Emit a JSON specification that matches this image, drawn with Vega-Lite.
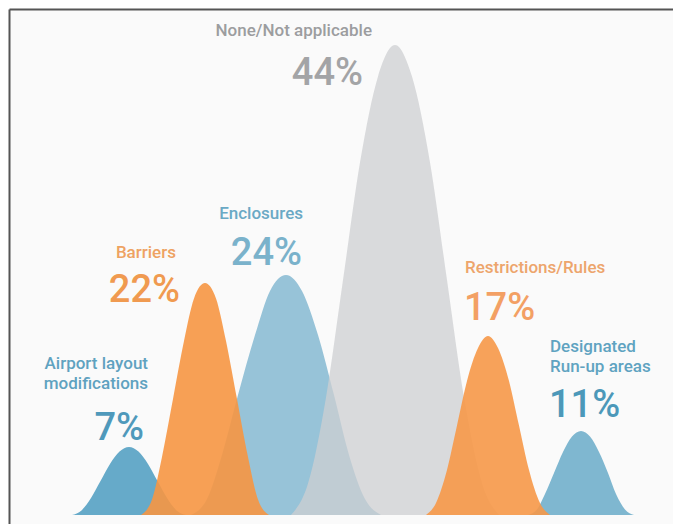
{
  "$schema": "https://vega.github.io/schema/vega-lite/v6.json",
  "width": 664,
  "height": 515,
  "autosize": {"type": "none"},
  "padding": {"left": 9, "top": 9, "right": 0, "bottom": 0},
  "background": "#ffffff",
  "config": {
    "view": {"fill": "#fafafa", "stroke": null},
    "axis": {"domain": true, "domainColor": "#555555", "domainWidth": 2, "ticks": false, "labels": false, "grid": false, "title": null}
  },
  "datasets": {
    "curves": [
      {"series": "Airport layout modifications", "x": 72, "y": 0},
      {"series": "Airport layout modifications", "x": 81.5, "y": 4.6},
      {"series": "Airport layout modifications", "x": 91, "y": 17},
      {"series": "Airport layout modifications", "x": 100.5, "y": 34},
      {"series": "Airport layout modifications", "x": 110, "y": 51},
      {"series": "Airport layout modifications", "x": 119.5, "y": 63.4},
      {"series": "Airport layout modifications", "x": 129, "y": 68},
      {"series": "Airport layout modifications", "x": 138.5, "y": 63.4},
      {"series": "Airport layout modifications", "x": 148, "y": 51},
      {"series": "Airport layout modifications", "x": 157.5, "y": 34},
      {"series": "Airport layout modifications", "x": 167, "y": 17},
      {"series": "Airport layout modifications", "x": 176.5, "y": 4.6},
      {"series": "Airport layout modifications", "x": 186, "y": 0},
      {"series": "Barriers", "x": 141, "y": 0},
      {"series": "Barriers", "x": 152, "y": 15.5},
      {"series": "Barriers", "x": 162, "y": 58},
      {"series": "Barriers", "x": 173, "y": 116},
      {"series": "Barriers", "x": 184, "y": 174},
      {"series": "Barriers", "x": 194, "y": 216.5},
      {"series": "Barriers", "x": 205, "y": 232},
      {"series": "Barriers", "x": 216, "y": 216.5},
      {"series": "Barriers", "x": 226, "y": 174},
      {"series": "Barriers", "x": 237, "y": 116},
      {"series": "Barriers", "x": 248, "y": 58},
      {"series": "Barriers", "x": 258, "y": 15.5},
      {"series": "Barriers", "x": 269, "y": 0},
      {"series": "Enclosures", "x": 191, "y": 0},
      {"series": "Enclosures", "x": 207, "y": 16},
      {"series": "Enclosures", "x": 222, "y": 60},
      {"series": "Enclosures", "x": 238, "y": 120},
      {"series": "Enclosures", "x": 255, "y": 180},
      {"series": "Enclosures", "x": 270, "y": 224},
      {"series": "Enclosures", "x": 286, "y": 240},
      {"series": "Enclosures", "x": 302, "y": 224},
      {"series": "Enclosures", "x": 318, "y": 180},
      {"series": "Enclosures", "x": 334, "y": 120},
      {"series": "Enclosures", "x": 349, "y": 60},
      {"series": "Enclosures", "x": 365, "y": 16},
      {"series": "Enclosures", "x": 381, "y": 0},
      {"series": "None/Not applicable", "x": 291, "y": 0},
      {"series": "None/Not applicable", "x": 308, "y": 31.5},
      {"series": "None/Not applicable", "x": 326, "y": 117.5},
      {"series": "None/Not applicable", "x": 343, "y": 235},
      {"series": "None/Not applicable", "x": 360, "y": 352.5},
      {"series": "None/Not applicable", "x": 378, "y": 438.5},
      {"series": "None/Not applicable", "x": 395, "y": 470},
      {"series": "None/Not applicable", "x": 412, "y": 438.5},
      {"series": "None/Not applicable", "x": 430, "y": 352.5},
      {"series": "None/Not applicable", "x": 447, "y": 235},
      {"series": "None/Not applicable", "x": 464, "y": 117.5},
      {"series": "None/Not applicable", "x": 482, "y": 31.5},
      {"series": "None/Not applicable", "x": 499, "y": 0},
      {"series": "Restrictions/Rules", "x": 426, "y": 0},
      {"series": "Restrictions/Rules", "x": 436, "y": 12},
      {"series": "Restrictions/Rules", "x": 447, "y": 45},
      {"series": "Restrictions/Rules", "x": 457, "y": 89.5},
      {"series": "Restrictions/Rules", "x": 467, "y": 134},
      {"series": "Restrictions/Rules", "x": 478, "y": 167},
      {"series": "Restrictions/Rules", "x": 488, "y": 179},
      {"series": "Restrictions/Rules", "x": 498, "y": 167},
      {"series": "Restrictions/Rules", "x": 509, "y": 134},
      {"series": "Restrictions/Rules", "x": 519, "y": 89.5},
      {"series": "Restrictions/Rules", "x": 529, "y": 45},
      {"series": "Restrictions/Rules", "x": 540, "y": 12},
      {"series": "Restrictions/Rules", "x": 550, "y": 0},
      {"series": "Designated Run-up areas", "x": 528, "y": 0},
      {"series": "Designated Run-up areas", "x": 537, "y": 5.6},
      {"series": "Designated Run-up areas", "x": 545, "y": 21},
      {"series": "Designated Run-up areas", "x": 554, "y": 42},
      {"series": "Designated Run-up areas", "x": 563, "y": 63},
      {"series": "Designated Run-up areas", "x": 572, "y": 78.4},
      {"series": "Designated Run-up areas", "x": 581, "y": 84},
      {"series": "Designated Run-up areas", "x": 590, "y": 78.4},
      {"series": "Designated Run-up areas", "x": 599, "y": 63},
      {"series": "Designated Run-up areas", "x": 608, "y": 42},
      {"series": "Designated Run-up areas", "x": 616, "y": 21},
      {"series": "Designated Run-up areas", "x": 625, "y": 5.6},
      {"series": "Designated Run-up areas", "x": 634, "y": 0}
    ],
    "labels": [
      {"series": "None/Not applicable", "kind": "name", "text": "None/Not applicable", "x": 372, "y": 479},
      {"series": "Enclosures", "kind": "name", "text": "Enclosures", "x": 303, "y": 296},
      {"series": "Barriers", "kind": "name", "text": "Barriers", "x": 176, "y": 257},
      {"series": "Airport layout modifications", "kind": "name", "text": "Airport layout\nmodifications", "x": 148, "y": 146},
      {"series": "Restrictions/Rules", "kind": "name", "text": "Restrictions/Rules", "x": 465, "y": 242},
      {"series": "Designated Run-up areas", "kind": "name", "text": "Designated\nRun-up areas", "x": 550, "y": 163},
      {"series": "None/Not applicable", "kind": "pct", "text": "44%", "x": 363, "y": 430},
      {"series": "Enclosures", "kind": "pct", "text": "24%", "x": 302, "y": 250},
      {"series": "Barriers", "kind": "pct", "text": "22%", "x": 180, "y": 213},
      {"series": "Airport layout modifications", "kind": "pct", "text": "7%", "x": 144, "y": 75},
      {"series": "Restrictions/Rules", "kind": "pct", "text": "17%", "x": 464, "y": 195},
      {"series": "Designated Run-up areas", "kind": "pct", "text": "11%", "x": 549, "y": 98}
    ]
  },
  "layer": [
    {
      "data": {"name": "curves"},
      "transform": [{"filter": {"field": "series", "oneOf": ["Airport layout modifications", "Enclosures", "Designated Run-up areas"]}}],
      "mark": {"type": "area", "interpolate": "monotone"},
      "encoding": {
        "x": {"field": "x", "type": "quantitative", "scale": {"domain": [9, 673], "nice": false, "zero": false}, "axis": {"orient": "top"}},
        "y": {"field": "y", "type": "quantitative", "stack": null, "scale": {"domain": [-9, 506], "nice": false, "zero": false}, "axis": {"orient": "left"}},
        "color": {"field": "series", "type": "nominal", "legend": null, "scale": {"domain": ["Airport layout modifications", "Enclosures", "Designated Run-up areas"], "range": ["#66aac9", "#97c3d8", "#7fb7d0"]}}
      }
    },
    {
      "data": {"name": "curves"},
      "transform": [{"filter": {"field": "series", "equal": "None/Not applicable"}}],
      "mark": {"type": "area", "interpolate": "monotone", "opacity": 0.75},
      "encoding": {
        "x": {"field": "x", "type": "quantitative", "scale": {"domain": [9, 673], "nice": false, "zero": false}},
        "y": {"field": "y", "type": "quantitative", "stack": null, "scale": {"domain": [-9, 506], "nice": false, "zero": false}},
        "color": {"field": "series", "type": "nominal", "legend": null, "scale": {"domain": ["None/Not applicable"], "range": ["#cecfd2"]}}
      }
    },
    {
      "data": {"name": "curves"},
      "transform": [{"filter": {"field": "series", "oneOf": ["Barriers", "Restrictions/Rules"]}}],
      "mark": {"type": "area", "interpolate": "monotone", "opacity": 0.9},
      "encoding": {
        "x": {"field": "x", "type": "quantitative", "scale": {"domain": [9, 673], "nice": false, "zero": false}},
        "y": {"field": "y", "type": "quantitative", "stack": null, "scale": {"domain": [-9, 506], "nice": false, "zero": false}},
        "color": {"field": "series", "type": "nominal", "legend": null, "scale": {"domain": ["Barriers", "Restrictions/Rules"], "range": ["#f69643", "#f69848"]}}
      }
    },
    {
      "data": {"name": "labels"},
      "transform": [{"filter": "datum.kind === 'name' && indexof(['Restrictions/Rules','Designated Run-up areas'], datum.series) < 0"}],
      "mark": {"type": "text", "align": "right", "baseline": "alphabetic", "font": "Roboto", "fontWeight": 500, "fontSize": 17, "lineBreak": "\n", "lineHeight": 20},
      "encoding": {
        "x": {"field": "x", "type": "quantitative", "scale": {"domain": [9, 673], "nice": false, "zero": false}},
        "y": {"field": "y", "type": "quantitative", "scale": {"domain": [-9, 506], "nice": false, "zero": false}},
        "text": {"field": "text"},
        "color": {"field": "series", "type": "nominal", "legend": null, "scale": {"domain": ["None/Not applicable", "Enclosures", "Barriers", "Airport layout modifications"], "range": ["#9c9d9f", "#6aa9c5", "#eea262", "#5fa2c0"]}}
      }
    },
    {
      "data": {"name": "labels"},
      "transform": [{"filter": "datum.kind === 'name' && indexof(['Restrictions/Rules','Designated Run-up areas'], datum.series) >= 0"}],
      "mark": {"type": "text", "align": "left", "baseline": "alphabetic", "font": "Roboto", "fontWeight": 500, "fontSize": 17, "lineBreak": "\n", "lineHeight": 20},
      "encoding": {
        "x": {"field": "x", "type": "quantitative", "scale": {"domain": [9, 673], "nice": false, "zero": false}},
        "y": {"field": "y", "type": "quantitative", "scale": {"domain": [-9, 506], "nice": false, "zero": false}},
        "text": {"field": "text"},
        "color": {"field": "series", "type": "nominal", "legend": null, "scale": {"domain": ["Restrictions/Rules", "Designated Run-up areas"], "range": ["#eda56c", "#5fa3c1"]}}
      }
    },
    {
      "data": {"name": "labels"},
      "transform": [{"filter": "datum.kind === 'pct' && indexof(['Restrictions/Rules','Designated Run-up areas'], datum.series) < 0"}],
      "mark": {"type": "text", "align": "right", "baseline": "alphabetic", "font": "Roboto", "fontWeight": 500, "fontSize": 38},
      "encoding": {
        "x": {"field": "x", "type": "quantitative", "scale": {"domain": [9, 673], "nice": false, "zero": false}},
        "y": {"field": "y", "type": "quantitative", "scale": {"domain": [-9, 506], "nice": false, "zero": false}},
        "text": {"field": "text"},
        "color": {"field": "series", "type": "nominal", "legend": null, "scale": {"domain": ["None/Not applicable", "Enclosures", "Barriers", "Airport layout modifications"], "range": ["#a3a4a6", "#7ab2cb", "#f09a50", "#4f99bb"]}}
      }
    },
    {
      "data": {"name": "labels"},
      "transform": [{"filter": "datum.kind === 'pct' && indexof(['Restrictions/Rules','Designated Run-up areas'], datum.series) >= 0"}],
      "mark": {"type": "text", "align": "left", "baseline": "alphabetic", "font": "Roboto", "fontWeight": 500, "fontSize": 38},
      "encoding": {
        "x": {"field": "x", "type": "quantitative", "scale": {"domain": [9, 673], "nice": false, "zero": false}},
        "y": {"field": "y", "type": "quantitative", "scale": {"domain": [-9, 506], "nice": false, "zero": false}},
        "text": {"field": "text"},
        "color": {"field": "series", "type": "nominal", "legend": null, "scale": {"domain": ["Restrictions/Rules", "Designated Run-up areas"], "range": ["#f3a064", "#4c98b9"]}}
      }
    }
  ],
  "resolve": {"scale": {"color": "independent"}}
}
